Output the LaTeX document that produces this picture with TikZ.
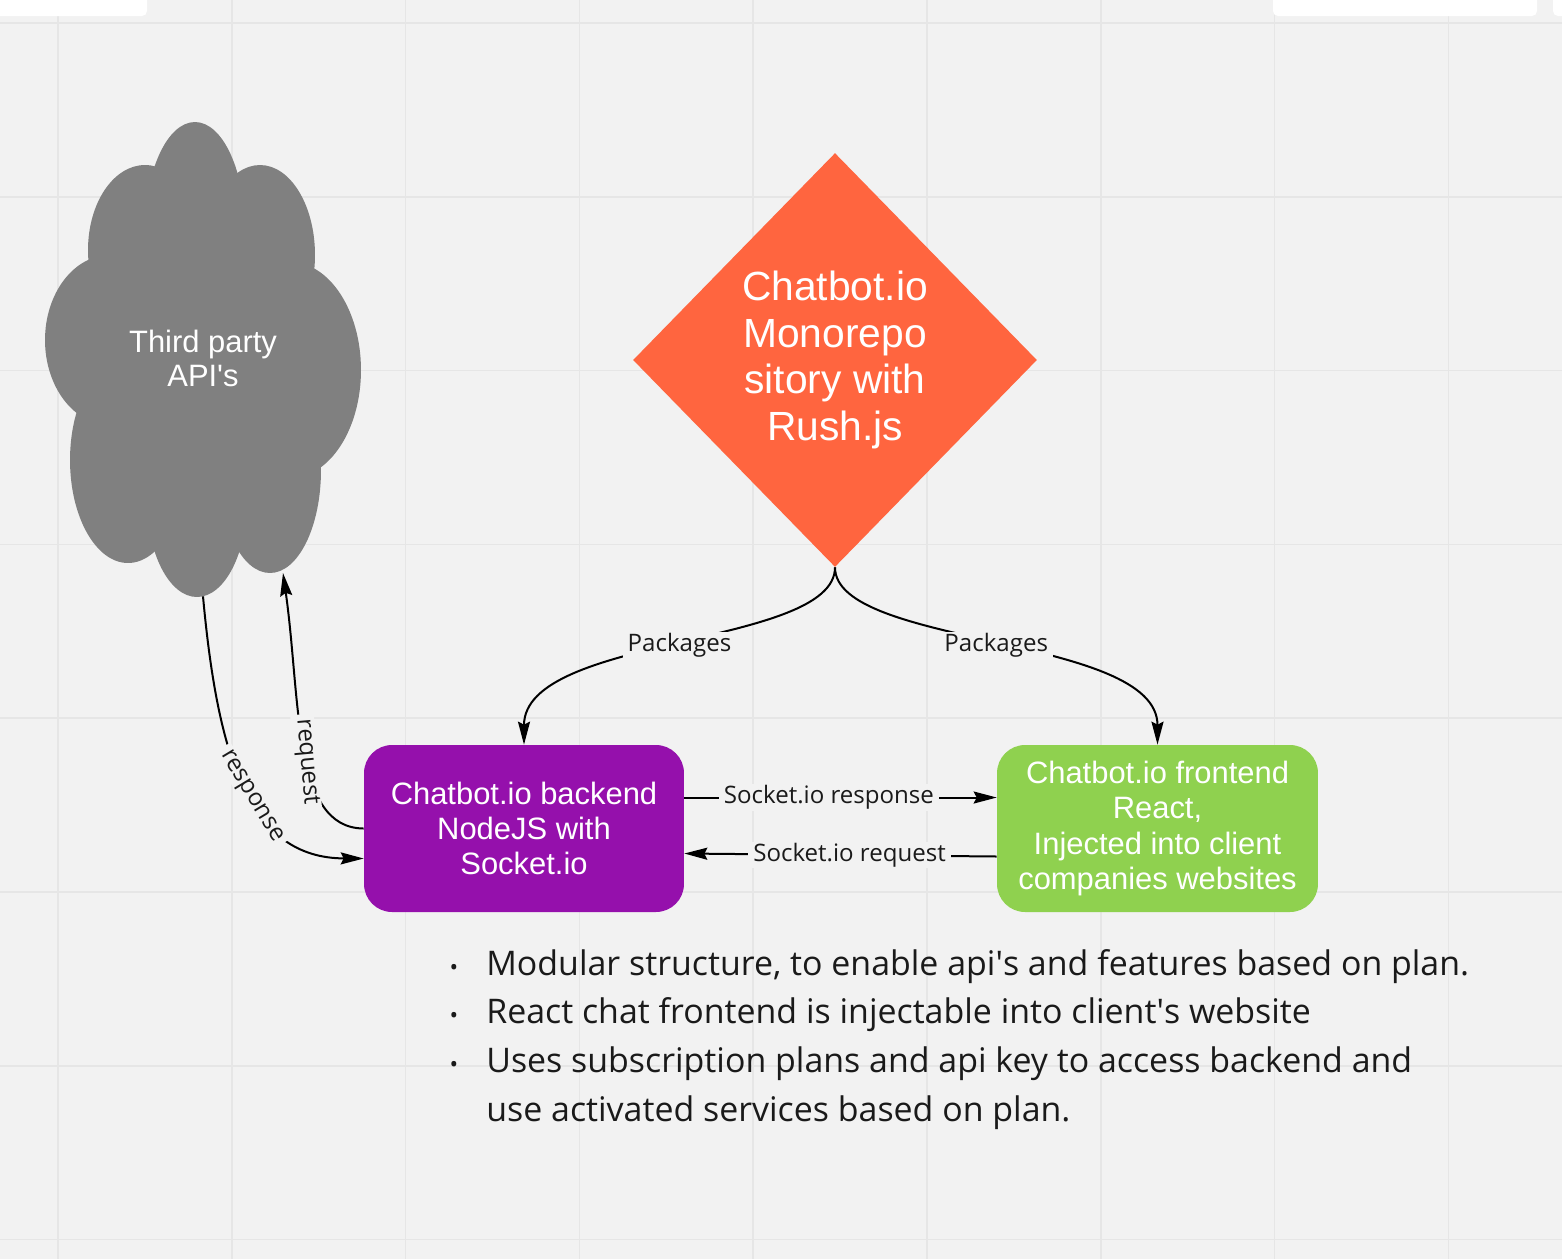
\documentclass[tikz,border=0pt]{standalone}
\usepackage{fontspec}
\setmainfont{Open Sans}
\newfontfamily\arialfont{Liberation Sans}
\usepackage{xcolor}
\usetikzlibrary{shapes.geometric}
\usetikzlibrary{positioning, arrows.meta}

\definecolor{canvas}{HTML}{F2F2F2}
\definecolor{gridline}{HTML}{E6E6E6}
\definecolor{repoorange}{HTML}{FF653F}
\definecolor{backpurple}{HTML}{9510AC}
\definecolor{frontgreen}{HTML}{8FD14F}
\definecolor{cloudgray}{HTML}{808080}
\definecolor{inkdark}{HTML}{1A1A1A}

\begin{document}
\begin{tikzpicture}[x=0.02cm, y=-0.02cm, >=Stealth, % one unit = one pixel of the board
    conn/.style={draw=black, line width=0.04cm, -{Stealth[length=0.46cm, width=0.24cm, inset=0.06cm]}},
    lbl/.style={fill=canvas, inner xsep=0.1cm, inner ysep=0.02cm, text=inkdark, font=\fontsize{13.7pt}{16pt}\selectfont},
    box/.style={rectangle, rounded corners=0.56cm, minimum height=3.34cm, align=center, text=white, inner sep=0pt, font=\arialfont\fontsize{17.6pt}{20pt}\selectfont},
    gridln/.style={draw=gridline, line width=0.035cm},
    bulletdot/.style={anchor=base, text=inkdark, inner sep=0pt, font=\fontsize{13pt}{15pt}\selectfont},
    pointtext/.style={anchor=base west, text=inkdark, inner sep=0pt, font=\fontsize{19.3pt}{27.6pt}\selectfont}]

    % Board background with its grid
    \useasboundingbox (0,0) rectangle (1562,1259);
    \clip (0,0) rectangle (1562,1259);
    \fill[canvas] (0,0) rectangle (1562,1259);
    \foreach \gx in {0,...,8}
        \draw[gridln] (58+173.8*\gx,0) -- (58+173.8*\gx,1259);
    \foreach \gy in {0,...,7}
        \draw[gridln] (0,23+173.8*\gy) -- (1562,23+173.8*\gy);

    % Toolbar tabs along the top edge
    \fill[white, rounded corners=0.1cm] (-20,-20) rectangle (147,16);
    \fill[white, rounded corners=0.1cm] (1273,-20) rectangle (1537,16);
    \fill[white, rounded corners=0.1cm] (1553,-20) rectangle (1590,16);

    % Cloud built from overlapping ellipses
    \fill[cloudgray] (195,230) ellipse [x radius=1cm, y radius=2.16cm];
    \fill[cloudgray] (145,250) ellipse [x radius=1.14cm, y radius=1.7cm];
    \fill[cloudgray] (260,255) ellipse [x radius=1.1cm, y radius=1.8cm];
    \fill[cloudgray] (110,340) ellipse [x radius=1.3cm, y radius=1.7cm];
    \fill[cloudgray] (290,370) ellipse [x radius=1.42cm, y radius=2.16cm];
    \fill[cloudgray] (128,460) ellipse [x radius=1.16cm, y radius=2.06cm];
    \fill[cloudgray] (197,500) ellipse [x radius=1cm, y radius=1.94cm];
    \fill[cloudgray] (270,470) ellipse [x radius=1.02cm, y radius=2.06cm];
    \fill[cloudgray] (200,370) ellipse [x radius=2.2cm, y radius=3cm];
    \node[align=center, text=white, inner sep=0pt, minimum width=6.32cm, minimum height=9.52cm,
          font=\arialfont\fontsize{17.6pt}{19.4pt}\selectfont] (api) at (203,358) {Third party\\API\textquotesingle s};
    \coordinate (reqtip) at (283,573);

    % Monorepo diamond and the two packages
    \node[diamond, fill=repoorange, minimum width=8.08cm, minimum height=8.28cm, inner sep=0pt, align=center,
          text=white, font=\arialfont\fontsize{23.2pt}{26.6pt}\selectfont] (repo) at (835,360)
          {Chatbot.io\\Monorepo\\sitory with\\Rush.js};
    \node[box, fill=backpurple, minimum width=6.4cm] (backend) at (524,828.5)
          {Chatbot.io backend\\NodeJS with\\Socket.io};
    \node[box, fill=frontgreen, minimum width=6.42cm] (frontend) at (1157.5,828.5)
          {Chatbot.io frontend\\React,\\Injected into client\\companies websites};

    % Connectors
    \draw[conn] (repo.south) .. controls +(0,80) and +(0,-110) .. (backend.north) node[lbl, pos=0.5] {Packages};
    \draw[conn] (repo.south) .. controls +(0,80) and +(0,-110) .. (frontend.north) node[lbl, pos=0.5] {Packages};
    \draw[conn] ([yshift=0.62cm]backend.east) -- ([yshift=0.62cm]frontend.west) node[lbl, pos=0.463] {Socket.io response};
    \draw[conn] ([yshift=-0.56cm]frontend.west) -- ([yshift=-0.5cm]backend.east) node[lbl, pos=0.471] {Socket.io request};
    \draw[conn] (backend.west) .. controls (292,828) and (301,700) .. (reqtip) node[lbl, pos=0.45, rotate=-85] {request};
    \draw[conn] (api.south) .. controls (218,760) and (250,858) .. ([yshift=-0.6cm]backend.west) node[lbl, pos=0.53, sloped] {response};

    % Notes under the diagram
    \node[bulletdot] (dot1) at (454,975) {•};
    \node[bulletdot] (dot2) at (454,1023.7) {•};
    \node[bulletdot] (dot3) at (454,1072.4) {•};
    \node[pointtext] (pt1) at (486,975) {Modular structure, to enable api\textquotesingle s and features based on plan.};
    \node[pointtext] (pt2) at (486,1023.7) {React chat frontend is injectable into client\textquotesingle s website};
    \node[pointtext] (pt3) at (486,1072.4) {Uses subscription plans and api key to access backend and};
    \node[pointtext] (pt4) at (486,1121.1) {use activated services based on plan.};

\end{tikzpicture}
\end{document}
